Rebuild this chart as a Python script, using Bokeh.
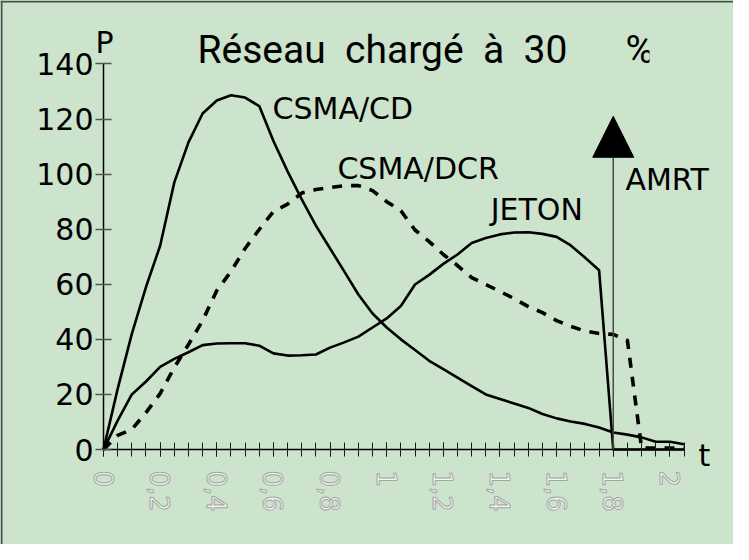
from bokeh.plotting import figure
from bokeh.models import (FixedTicker, Label, Arrow, NormalHead, BoxAnnotation,
                          ColumnDataSource, Range1d, Span)
from bokeh.embed import file_html
from bokeh.resources import INLINE

# ---------------- data ----------------
t_values = [0.0, 0.05, 0.1, 0.15, 0.2, 0.25, 0.3, 0.35, 0.4, 0.45,
            0.5, 0.55, 0.6, 0.65, 0.7, 0.75, 0.8, 0.85, 0.9, 0.95,
            1.0, 1.05, 1.1, 1.15, 1.2, 1.25, 1.3, 1.35, 1.4, 1.45,
            1.5, 1.55, 1.6, 1.65, 1.7, 1.75, 1.8, 1.85, 1.9, 1.95,
            2.0, 2.05]

csma_cd = [0, 22, 42, 59, 74, 97, 111.5, 122, 126.7, 128.6,
           127.8, 124.7, 112, 101, 90.8, 81.3, 73, 64.7, 56.3, 49.4,
           44.3, 40, 36.1, 32.2, 29.2, 26.1, 23, 20, 18.3, 16.7,
           15.1, 12.9, 11.3, 10.2, 9.3, 8, 6.2, 5.4, 4.4, 2.8,
           2.8, 1.9]

csma_dcr = [0, 5.1, 7.3, 13.4, 20.3, 29.8, 38.1, 46.8, 57.7, 64.6,
            73, 79.9, 86.4, 89.1, 93.1, 94.4, 95.1, 95.8, 95.8, 94,
            90, 86.7, 79.7, 75.5, 70.8, 66.8, 62.4, 59.9, 57.4, 54.8,
            51.9, 49.7, 46.8, 44.7, 43, 42.1, 41.8, 39.6, 0.5, 0.5,
            0.5, 0.5]

jeton = [0, 10.5, 20, 24.7, 30, 32.9, 35.3, 37.9, 38.5, 38.6,
         38.6, 37.7, 34.9, 34.1, 34.2, 34.5, 37, 38.9, 41, 44.3,
         47.6, 52.1, 59.9, 63.4, 67.4, 70.8, 75, 76.8, 78.1, 78.8,
         78.9, 78.3, 77.2, 74.1, 69.7, 65.1, 0, 0, 0, 0,
         0, 0]

amrt_t = 1.8
amrt_peak = 121

x_tick_values = [0, 0.2, 0.4, 0.6, 0.8, 1.0, 1.2, 1.4, 1.6, 1.8, 2.0]
x_tick_labels = ["0", "0,2", "0,4", "0,6", "0,8", "1", "1,2", "1,4", "1,6", "1,8", "2"]
y_tick_values = [0, 20, 40, 60, 80, 100, 120, 140]

NB = "\u00a0"
title_text = "Réseau " + NB + "chargé " + NB + "à " + NB + "30 " + NB * 5 + "%"
series_names = ["CSMA/CD", "CSMA/DCR", "JETON", "AMRT"]

# ---------------- layout (pixels) ----------------
W, H = 733, 544
X0, PX_T = 103, 283.2     # canvas x of t = 0, pixels per unit of t
Y0, PX_P = 449, 2.754     # canvas y of P = 0, pixels per unit of P

BG = "#cce3cc"
p = figure(width=W, height=H, output_backend="svg", toolbar_location=None,
           x_range=Range1d(-X0 / PX_T, (W - X0) / PX_T),
           y_range=Range1d(-(H - Y0) / PX_P, Y0 / PX_P),
           min_border=0, min_border_left=0, min_border_right=0,
           min_border_top=0, min_border_bottom=0)
p.background_fill_color = BG
p.border_fill_color = BG
p.outline_line_color = None
p.xgrid.visible = False
p.ygrid.visible = False

src = ColumnDataSource(dict(t=t_values, cd=csma_cd, dcr=csma_dcr, jet=jeton))

p.line(x="t", y="dcr", source=src, line_color="black", line_width=3.6,
       line_dash="10 9", line_join="round")
p.line(x="t", y="cd", source=src, line_color="black", line_width=2.6, line_join="round")
p.line(x="t", y="jet", source=src, line_color="black", line_width=2.6, line_join="round")

p.add_layout(Arrow(end=NormalHead(size=41, fill_color="black", line_color="black"),
                   x_start=amrt_t, y_start=0, x_end=amrt_t, y_end=amrt_peak,
                   line_color="#4a4a4a", line_width=1.5))

# ---------------- axes ----------------
xa = p.xaxis[0]
xa.fixed_location = 0
xa.ticker = FixedTicker(ticks=x_tick_values, minor_ticks=t_values)
xa.bounds = (0, 2.05)
xa.axis_line_color = "black"
xa.axis_line_width = 1.5
xa.major_tick_in = 7
xa.major_tick_out = 7
xa.minor_tick_in = 7
xa.minor_tick_out = 7
xa.major_tick_line_color = "#1a1a1a"
xa.minor_tick_line_color = "#1a1a1a"
xa.major_label_orientation = "vertical"
xa.major_label_overrides = dict(zip(x_tick_values, x_tick_labels))
xa.major_label_standoff = 14
xa.major_label_text_font = "DejaVu Sans"
xa.major_label_text_font_size = "26px"
xa.major_label_text_color = "#f0f6f0"
try:
    xa.major_label_text_outline_color = "#a4a4a4"
except AttributeError:
    xa.major_label_text_color = "#b8c4b8"

ya = p.yaxis[0]
ya.fixed_location = 0
ya.ticker = FixedTicker(ticks=y_tick_values, minor_ticks=[])
ya.bounds = (0, 140)
ya.axis_line_color = "black"
ya.axis_line_width = 1.5
ya.major_tick_in = 8
ya.major_tick_out = 8
ya.minor_tick_in = 0
ya.minor_tick_out = 0
ya.major_tick_line_color = "#555555"
ya.major_tick_line_width = 1.5
ya.major_label_standoff = 2
ya.major_label_text_font = "DejaVu Sans"
ya.major_label_text_font_size = "30px"
ya.major_label_text_color = "black"

# ---------------- texts ----------------
def add_label(x, y, text, size="30px", font="DejaVu Sans", align="left"):
    p.add_layout(Label(x=x, y=y, text=text, text_font=font, text_font_size=size,
                       text_color="black", text_align=align,
                       text_baseline="alphabetic"))

add_label(0.0035, 147.8, "P", align="center")
add_label(2.101, -2.2, "t")
add_label(0.332, 144.9, title_text, size="39px", font="Roboto")
add_label(0.597, 123.8, series_names[0])
add_label(0.826, 102.0, series_names[1])
add_label(1.367, 87.1, series_names[2])
add_label(1.843, 98.0, series_names[3])

# the title's last glyph is cut off in the original chart
p.add_layout(BoxAnnotation(left=(657 - 8 - X0) / PX_T, bottom=138.7,
                           top=(Y0 - 4) / PX_P,
                           fill_color=BG, fill_alpha=1.0,
                           line_color=None, level="overlay"))

# chart-area border (left and top edges)
p.add_layout(Span(location=-X0 / PX_T + 1.0 / PX_T, dimension="height",
                  line_color="#44544a", line_width=2, level="overlay"))
p.add_layout(Span(location=Y0 / PX_P - 1.0 / PX_P, dimension="width",
                  line_color="#44544a", line_width=2, level="overlay"))

open("out.html", "w").write(file_html(p, INLINE))
